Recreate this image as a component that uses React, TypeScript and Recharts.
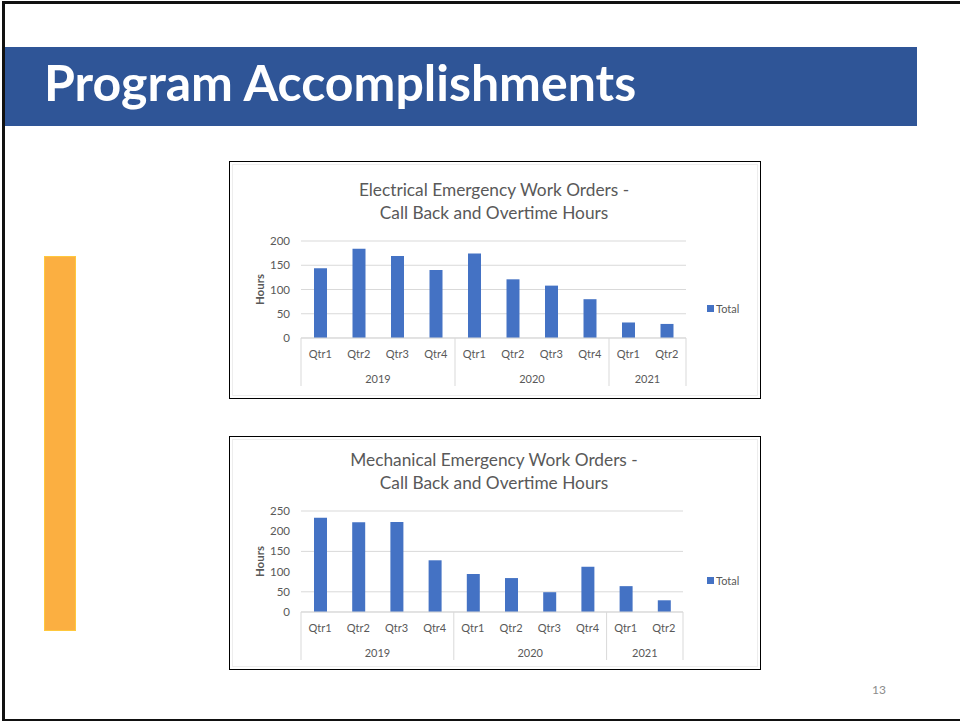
import { Bar, BarChart, CartesianGrid, Legend, XAxis, YAxis } from "recharts";

const QUARTERS = ["Qtr1", "Qtr2", "Qtr3", "Qtr4", "Qtr1", "Qtr2", "Qtr3", "Qtr4", "Qtr1", "Qtr2"];
const YEARS = ["2019", "2019", "2019", "2019", "2020", "2020", "2020", "2020", "2021", "2021"];
const ELECTRICAL = [144, 184, 169, 140, 174, 121, 108, 80, 32, 29];
const MECHANICAL = [233, 222, 223, 128, 94, 84, 49, 112, 64, 29];
const ELEC_TICKS = [0, 50, 100, 150, 200];
const MECH_TICKS = [0, 50, 100, 150, 200, 250];

const BLUE = "#4472C4";
const GRID = "#D9D9D9";
const INK = "#595959";
const FONT = "Lato, 'Open Sans', sans-serif";

// year groups for the two-level category axis
const GROUPS = YEARS.reduce<{ year: string; start: number; span: number }[]>((acc, y, i) => {
  const g = acc[acc.length - 1];
  if (g && g.year === y) g.span += 1;
  else acc.push({ year: y, start: i, span: 1 });
  return acc;
}, []);

const rows = (vals: number[]) =>
  vals.map((v, i) => ({ id: `${YEARS[i]} ${QUARTERS[i]}`, Total: v }));

function CatTick(props: any) {
  const { x, y, payload } = props;
  const i = props.index ?? payload.index;
  const half = payload.offset || 19;
  const g = GROUPS.find((g) => g.start === i);
  const last = i === QUARTERS.length - 1;
  return (
    <g>
      <text x={x} y={y + 20} textAnchor="middle" fontSize={11} fill={INK} fontFamily={FONT}>
        {QUARTERS[i]}
      </text>
      {g && <line x1={x - half} x2={x - half} y1={y} y2={y + 48} stroke={GRID} />}
      {g && (
        <text
          x={x - half + g.span * half}
          y={y + 45}
          textAnchor="middle"
          fontSize={11}
          fill={INK}
          fontFamily={FONT}
        >
          {g.year}
        </text>
      )}
      {last && <line x1={x + half} x2={x + half} y1={y} y2={y + 48} stroke={GRID} />}
    </g>
  );
}

function LegendBox() {
  return (
    <div style={{ display: "flex", alignItems: "center", fontSize: 11, color: INK, fontFamily: FONT }}>
      <span style={{ width: 7, height: 7, background: BLUE, marginRight: 2, display: "inline-block" }} />
      Total
    </div>
  );
}

function ChartCard(props: {
  left: number;
  top: number;
  height: number;
  title: string[];
  titleTop: number;
  data: number[];
  ticks: number[];
  margin: { top: number; right: number };
  axisH: number;
  legendTop: number;
}) {
  const { left, top, height, title, titleTop, data, ticks, margin, axisH, legendTop } = props;
  const w = 530;
  return (
    <div
      style={{
        position: "absolute",
        left,
        top,
        width: w,
        height,
        border: "1px solid #000",
        background: "#fff",
      }}
    >
      <div style={{ position: "absolute", left: 2, top: 2, right: 2, bottom: 2, border: "1px solid #EDEDED" }} />
      <BarChart
        width={w}
        height={height}
        data={rows(data)}
        margin={{ top: margin.top, right: margin.right, left: 0, bottom: 0 }}
        style={{ position: "absolute", left: 0, top: 0 }}
      >
        <CartesianGrid stroke={GRID} vertical={false} />
        <XAxis
          dataKey="id"
          height={axisH}
          interval={0}
          tickLine={false}
          tickSize={0}
          tickMargin={0}
          axisLine={{ stroke: GRID }}
          tick={<CatTick />}
        />
        <YAxis
          width={71}
          domain={[0, ticks[ticks.length - 1]]}
          ticks={ticks}
          tickLine={false}
          axisLine={false}
          tickSize={0}
          tickMargin={11}
          tick={{ fontSize: 11.5, fill: INK, fontFamily: FONT }}
          label={{
            value: "Hours",
            angle: -90,
            position: "insideLeft",
            offset: 30,
            style: { textAnchor: "middle", fontSize: 11.5, fill: INK, fontFamily: FONT, fontWeight: 700 },
          }}
        />
        <Legend
          align="center"
          verticalAlign="middle"
          layout="vertical"
          wrapperStyle={{ left: 477, top: legendTop, width: "auto" }}
          content={<LegendBox />}
        />
        <Bar dataKey="Total" fill={BLUE} barSize={13} isAnimationActive={false} />
      </BarChart>
      <div
        style={{
          position: "absolute",
          left: 0,
          top: titleTop,
          width: 528,
          textAlign: "center",
          fontFamily: FONT,
          fontSize: 17.3,
          lineHeight: "23px",
          color: INK,
        }}
      >
        {title.map((t) => (
          <div key={t}>{t}</div>
        ))}
      </div>
    </div>
  );
}

export default function App() {
  return (
    <div style={{ position: "absolute", left: 0, top: 0, width: 960, height: 721, background: "#fff", overflow: "hidden" }}>
      <div
        style={{
          position: "absolute",
          left: 2,
          top: 1,
          width: 958,
          height: 715,
          borderLeft: "3px solid #111",
          borderTop: "3px solid #111",
          borderBottom: "2px solid #111",
        }}
      />
      <div style={{ position: "absolute", left: 5, top: 47, width: 912, height: 79, background: "#2F5597" }} />
      <div
        style={{
          position: "absolute",
          left: 44,
          top: 57,
          fontFamily: FONT,
          fontWeight: 700,
          fontSize: 50,
          lineHeight: "50px",
          color: "#fff",
          whiteSpace: "nowrap",
        }}
      >
        Program Accomplishments
      </div>
      <div
        style={{
          position: "absolute",
          left: 44,
          top: 256,
          width: 30,
          height: 373,
          background: "#FBAF41",
          border: "1px solid #FFC83D",
        }}
      />
      <ChartCard
        left={229}
        top={161}
        height={236}
        title={["Electrical Emergency Work Orders -", "Call Back and Overtime Hours"]}
        titleTop={16}
        data={ELECTRICAL}
        ticks={ELEC_TICKS}
        margin={{ top: 79, right: 74 }}
        axisH={60}
        legendTop={140}
      />
      <ChartCard
        left={229}
        top={436}
        height={232}
        title={["Mechanical Emergency Work Orders -", "Call Back and Overtime Hours"]}
        titleTop={11}
        data={MECHANICAL}
        ticks={MECH_TICKS}
        margin={{ top: 74, right: 77 }}
        axisH={57}
        legendTop={137}
      />
      <div
        style={{
          position: "absolute",
          left: 872,
          top: 682,
          fontFamily: FONT,
          fontSize: 12,
          color: "#8C8C8C",
        }}
      >
        13
      </div>
    </div>
  );
}
